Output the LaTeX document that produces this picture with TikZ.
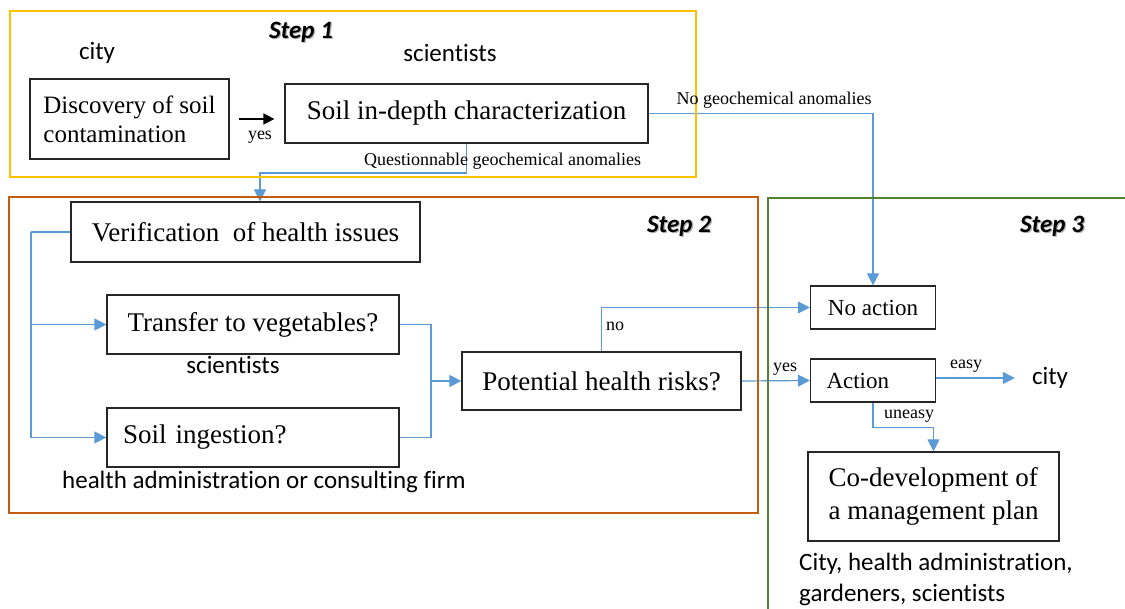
\documentclass[tikz,border=0pt]{standalone}
\usepackage{fontspec}
\setmainfont{Liberation Serif}
\newfontfamily\calfont[Ligatures=NoCommon]{Carlito}
\usetikzlibrary{arrows.meta}
\definecolor{stepone}{HTML}{FFC000}
\definecolor{steptwo}{HTML}{C55A11}
\definecolor{stepthree}{HTML}{548235}
\definecolor{conn}{HTML}{5B9BD5}
\newcommand\shadowed[1]{\makebox[0pt][l]{\hspace{1.3pt}\raisebox{-1.3pt}{\color{black!30}#1}}#1}
\pgfdeclarelayer{lines}
\pgfdeclarelayer{frames}
\pgfsetlayers{lines,frames,main}
\begin{document}
\begin{tikzpicture}[x=1pt,y=-1pt,
  box/.style={draw=black!85, line width=1.2pt, fill=white, inner sep=0pt, align=left,
    font=\fontsize{27}{33}\selectfont},
  lbl/.style={inner sep=0pt, font=\fontsize{18}{20}\selectfont},
  sans/.style={inner sep=0pt, font=\calfont\fontsize{25}{31}\selectfont},
  steplbl/.style={inner sep=0pt, font=\calfont\bfseries\itshape\fontsize{25}{28}\selectfont},
  link/.style={draw=conn, line width=1.2pt},
  arr/.style={link, -{Triangle[length=12pt,width=12pt]}},
  frame/.style={line width=2pt}
]
\useasboundingbox (0,0) rectangle (1125,609);

% boxes
\node[box, minimum width=199pt, minimum height=80pt, font=\fontsize{25}{29}\selectfont] (disc) at (129.5,119) {Discovery of soil\\contamination};
\node[box, minimum width=363pt, minimum height=59pt] (soil) at (466.5,113.5) {Soil in-depth characterization};
\node[box, minimum width=349pt, minimum height=60pt] (verif) at (245.5,232) {Verification\ \ of health issues};
\node[box, minimum width=292pt, minimum height=59pt] (transfer) at (253,324.5) {Transfer to vegetables?};
\node[box, inner xsep=16pt, text width=260pt, minimum height=59pt] (ingest) at (253,437.5) {Soil ingestion?};
\node[box, minimum width=279pt, minimum height=58pt] (pot) at (601.5,381) {Potential health risks?};
\node[box, minimum width=125pt, minimum height=43pt, font=\fontsize{23}{27}\selectfont] (noact) at (873,307.5) {No action};
\node[box, inner xsep=16pt, text width=93pt, minimum height=43pt, font=\fontsize{23}{27}\selectfont] (act) at (873,380.5) {Action};
\node[box, minimum width=251pt, minimum height=89pt] (codev) at (933.5,496.5) {Co-development of\\a management plan};

% labels
\node[steplbl] (s1) at (301,33) {\shadowed{Step 1}};
\node[steplbl] (s2) at (679,227) {\shadowed{Step 2}};
\node[steplbl] (s3) at (1052,227) {\shadowed{Step 3}};
\node[sans] (city1) at (97,53) {city};
\node[sans] (sci1) at (450,53) {scientists};
\node[sans] (sci2) at (233,365) {scientists};
\node[sans] (hadm) at (264,482) {health administration or consulting firm};
\node[sans, inner xsep=17pt] (city2) at (1050,378) {city};
\node[sans, anchor=west, align=left] (stake) at (799,579.5) {City, health administration,\\gardeners, scientists};
\node[lbl] (yes1) at (260,137) {yes};
\node[lbl] (quest) at (502.5,161) {Questionnable geochemical anomalies};
\node[lbl] (nogeo) at (774,100) {No geochemical anomalies};
\node[lbl] (no) at (615,326) {no};
\node[lbl] (yes2) at (785,369) {yes};
\node[lbl] (easy) at (966,366) {easy};
\node[lbl] (uneasy) at (909,416) {uneasy};

% frames
\begin{pgfonlayer}{frames}
\draw[frame, stepone] (10,11) rectangle (696,177);
\draw[frame, steptwo] (9,197) rectangle (758,513);
\draw[frame, stepthree] (1125,198) -- (768,198) -- (768,609);
\end{pgfonlayer}

% connectors
\begin{pgfonlayer}{lines}
\draw[line width=1.5pt, -{Triangle[length=11pt,width=11pt]}, shorten <=9pt, shorten >=10pt]
  (disc.east) -- (disc.east -| soil.west);
\draw[arr] (soil.east) -| (noact.north);
\coordinate (q) at (260,173);
\draw[arr] (soil.south) |- (q) -- (q |- verif.north);
\coordinate (lft) at (31,0);
\draw[link] (verif.west) -- (verif.west -| lft);
\draw[arr] (verif.west -| lft) |- (ingest.west);
\draw[arr] (transfer.west -| lft) -- (transfer.west);
\coordinate (mrg) at (431,381);
\draw[link] (transfer.east) -| (mrg);
\draw[link] (ingest.east) -| (mrg);
\draw[arr] (mrg) -- (pot.west);
\draw[arr] (pot.north) |- (noact.west);
\draw[arr] (pot.east) -- (act.west);
\draw[arr] (act.east |- city2.west) -- (city2.west);
\draw[arr] (act.south) -- ++(0,25) -| (codev.north);
\end{pgfonlayer}
\end{tikzpicture}
\end{document}
